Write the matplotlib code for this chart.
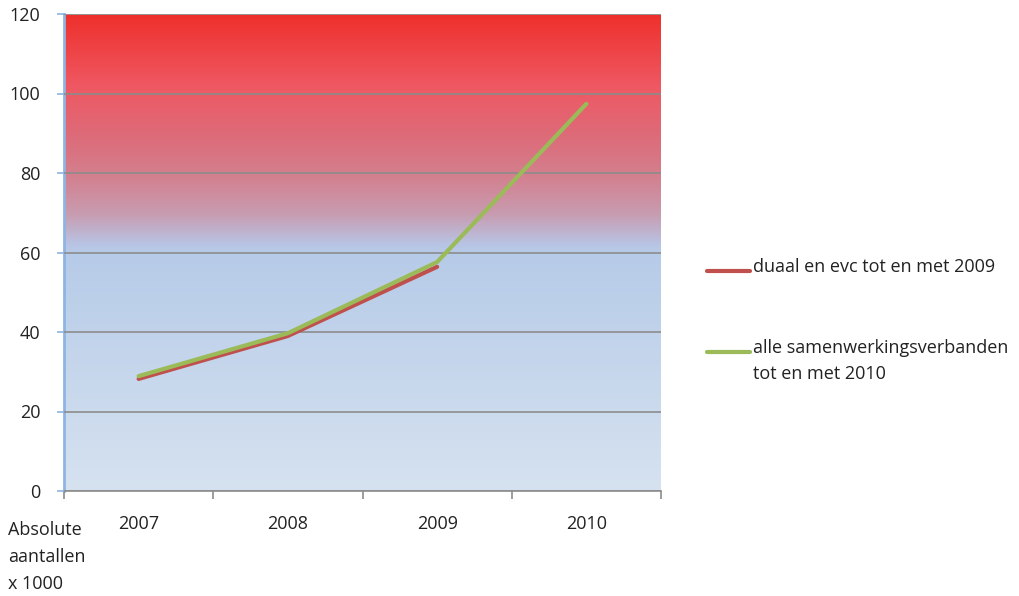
import numpy as np
import matplotlib
matplotlib.use("Agg")
import matplotlib.pyplot as plt
from matplotlib.colors import LinearSegmentedColormap
from matplotlib.lines import Line2D

years = ["2007", "2008", "2009", "2010"]
duaal_evc = [28.2, 39.0, 56.4]
alle_sv = [28.9, 39.7, 57.6, 97.4]
yticks = [0, 20, 40, 60, 80, 100, 120]
labels = ["duaal en evc tot en met 2009",
          "alle samenwerkingsverbanden\ntot en met 2010"]
colors = ['#C0504D', '#9BBB59']

plt.rcParams['font.family'] = ['Open Sans', 'DejaVu Sans']
FS = 13
TXT = '#222222'

fig = plt.figure(figsize=(10.2, 5.96), dpi=100)
ax = fig.add_axes([64/1020, 1-491/596, 597/1020, 477/596])

# background gradient
stops = [(0.0, (214, 226, 240)), (60/120, (182, 203, 232)), (62/120, (184, 196, 228)),
         (70/120, (200, 155, 175)), (80/120, (212, 126, 140)), (90/120, (222, 106, 120)),
         (102/120, (239, 88, 98)), (1.0, (238, 48, 44))]
cmap = LinearSegmentedColormap.from_list("bg", [(p, tuple(c/255 for c in col)) for p, col in stops])
grad = np.linspace(0, 1, 256).reshape(-1, 1)
ax.imshow(grad, cmap=cmap, aspect='auto', extent=[-0.5, 3.5, 0, 120], origin='lower', zorder=0)

x = np.arange(len(years))
ax.plot(x[:len(duaal_evc)], duaal_evc, color=colors[0], lw=3, solid_capstyle='round', zorder=3)
ax.plot(x, alle_sv, color=colors[1], lw=3, solid_capstyle='round', zorder=4)

ax.set_xlim(-0.5, 3.5)
ax.set_ylim(0, 120)
ax.set_yticks(yticks)
ax.set_yticklabels([str(v) for v in yticks], fontsize=FS, color=TXT)
ax.yaxis.grid(True, color='#8C8C8C', lw=1.2, zorder=1)
ax.set_axisbelow(False)
ax.set_xticks(np.arange(-0.5, 4, 1.0))
ax.set_xticklabels([])
ax.set_xticks(x, minor=True)
ax.set_xticklabels(years, minor=True, fontsize=FS, color=TXT)
ax.tick_params(axis='x', which='minor', length=0, pad=17)
ax.tick_params(axis='x', which='major', length=6, color='#8C8C8C', width=1.2)
ax.tick_params(axis='y', length=5, color='#8EB4E3', width=1.2, pad=12)
for s in ['top', 'right']:
    ax.spines[s].set_visible(False)
ax.spines['left'].set_color('#8EB4E3')
ax.spines['left'].set_linewidth(2)
ax.spines['bottom'].set_color('#8C8C8C')
ax.spines['bottom'].set_linewidth(1.2)
ax.axhline(120, color='#C8C8C8', lw=1.2, zorder=2)

# legend drawn manually to match layout (line aligned with first text line)
leg_y = [271, 352]
for lab, col, yy in zip(labels, colors, leg_y):
    fy = 1 - yy/596
    fig.add_artist(Line2D([707/1020, 750/1020], [fy, fy], color=col, lw=3,
                          solid_capstyle='round', transform=fig.transFigure))
    fig.text(753/1020, 1 - (yy - 13)/596, lab, fontsize=FS, color=TXT, va='top', ha='left',
             linespacing=1.6)

fig.text(8/1020, 1-521/596, "Absolute\naantallen\nx 1000", fontsize=FS, color=TXT,
         va='top', ha='left', linespacing=1.65)

fig.savefig("out.png", dpi=100)
